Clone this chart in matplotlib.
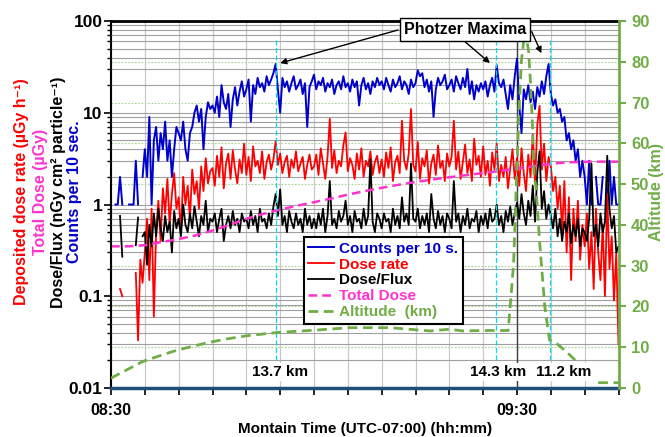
import numpy as np
import matplotlib
matplotlib.use('Agg')
import matplotlib.pyplot as plt
import matplotlib.transforms as mtransforms
from matplotlib.ticker import FixedLocator, FixedFormatter, NullFormatter

plt.rcParams['font.family'] = ['Liberation Sans', 'DejaVu Sans']
plt.rcParams['font.weight'] = 'bold'

# ---------------- data (time in minutes after 08:30, 20 s samples) ----------------
sample_step_min = 1 / 3

counts = [
    0, 0, 1, 1, 2, 1, 0, 0, 1, 1, 1, 3, 1, 0, 2,
    4, 2, 9, 1, 5, 7, 3, 6, 4, 8, 3, 5, 2, 4, 7,
    6, 5, 8, 4, 3, 6, 7, 10, 12, 8, 11, 4, 9, 13, 11,
    12, 10, 15, 9, 20, 13, 11, 16, 7, 14, 19, 12, 17, 22, 15,
    18, 23, 8, 20, 16, 24, 19, 21, 17, 25, 20, 23, 27, 34, 18,
    10, 24, 19, 22, 17, 21, 25, 18, 20, 23, 16, 21, 7, 19, 22,
    26, 18, 22, 20, 24, 17, 21, 19, 23, 16, 20, 22, 18, 25, 19,
    21, 17, 23, 19, 22, 12, 20, 24, 18, 21, 16, 22, 19, 24, 20,
    22, 18, 24, 20, 17, 23, 19, 21, 25, 18, 22, 20, 16, 23, 19,
    21, 29, 25, 27, 19, 23, 17, 22, 9, 18, 24, 20, 22, 26, 18,
    20, 23, 17, 25, 21, 18, 24, 19, 30, 16, 22, 14, 20, 17, 21,
    18, 22, 15, 20, 24, 17, 33, 21, 19, 23, 16, 11, 20, 14, 25,
    39, 12, 6, 18, 14, 20, 13, 17, 11, 19, 15, 22, 16, 25, 34,
    16, 12, 14, 10, 11, 8, 9, 5, 6, 4, 5, 3, 4, 2, 3,
    2, 1, 3, 1, 0, 2, 1, 1, 2, 0, 1, 3, 1, 2, 1, 1,
]

dose_rate = [
    0, 0, 0, 0, 0.12, 0.1, 0, 0, 0, 0.065, 0, 0.18, 0.033, 0.25, 0.14,
    0.3, 0.7, 0.15, 0.9, 0.06, 0.5, 1.1, 0.4, 1.5, 0.8, 1.9, 0.6, 1.3, 2.2, 0.9,
    1.2, 0.5, 2.0, 1.0, 1.6, 0.7, 2.4, 1.3, 1.8, 0.9, 2.6, 1.4, 3.2, 1.7, 2.3,
    2.5, 1.6, 3.4, 2.0, 4.2, 1.5, 2.8, 3.6, 1.9, 3.9, 2.4, 1.7, 3.1, 2.2, 4.6,
    2.1, 3.3, 1.8, 4.3, 2.6, 3.0, 2.2, 3.8, 1.9, 2.9, 3.5, 2.4, 3.1, 4.9, 2.7,
    3.6, 2.2, 2.9, 3.4, 2.0, 3.1, 2.5, 3.8, 2.3, 2.8, 3.3, 1.9, 2.7, 3.5, 2.4,
    2.6, 3.5, 2.1, 4.1, 2.8, 1.9, 3.3, 8.6, 2.5, 3.9, 2.2, 3.0, 2.6, 4.4, 6.1,
    2.3, 3.2, 2.7, 1.9, 3.6, 2.4, 4.1, 2.0, 3.0, 2.6, 3.8, 2.1, 2.9, 3.4, 2.2,
    3.1, 2.0, 3.7, 2.5, 4.2, 1.8, 2.9, 3.4, 2.2, 8.2, 3.0, 2.4, 3.6, 11.0, 2.7,
    2.3, 4.8, 1.9, 3.2, 2.6, 3.9, 1.7, 2.8, 3.5, 2.1, 4.4, 2.5, 3.0, 1.8, 3.6,
    2.6, 3.3, 8.2, 2.4, 3.8, 1.9, 2.9, 4.5, 2.2, 3.1, 1.8, 5.2, 2.7, 3.4, 2.0,
    4.3, 2.1, 3.0, 1.6, 3.7, 2.4, 4.6, 1.8, 2.7, 2.0, 3.3, 1.5, 2.5, 4.0, 1.9,
    3.2, 1.6, 4.1, 2.2, 1.4, 3.5, 2.0, 5.8, 1.7, 7.4, 11.9, 2.4, 4.6, 1.8, 3.3,
    2.6, 1.4, 2.0, 0.9, 1.6, 0.5, 1.8, 0.3, 1.2, 0.15, 0.9, 0.4, 1.1, 0.25, 0.6,
    0.35, 0.8, 0.2, 0.5, 0.12, 0.9, 0.3, 0.15, 0.6, 0.1, 1.3, 0.2, 0.45, 0.09, 0.3, 0.03,
]

dose_flux = [
    0, 0, 0, 0, 0.75, 0.27, 0, 0, 0, 0.7, 0, 0.36, 0.72, 0, 0.45,
    0.5, 0.22, 0.6, 0.35, 0.8, 0.45, 0.9, 0.55, 0.4, 0.75, 0.5, 0.65, 0.3, 0.85, 0.55,
    0.7, 0.45, 1.0, 0.6, 0.5, 0.8, 0.55, 0.95, 0.65, 0.45, 0.75, 0.6, 1.1, 0.5, 0.7,
    0.65, 0.8, 0.5, 0.7, 0.9, 0.4, 0.6, 0.75, 0.55, 0.85, 0.6, 0.7, 0.5, 0.8, 0.65,
    0.7, 0.55, 0.85, 0.6, 0.75, 0.5, 0.9, 0.65, 0.7, 0.55, 0.8, 0.6, 0.95, 1.3, 0.75,
    1.46, 0.6, 0.75, 0.5, 0.85, 0.65, 0.55, 0.8, 0.6, 0.7, 0.5, 0.9, 0.6, 0.75, 0.55,
    0.7, 0.55, 0.8, 0.6, 0.9, 0.5, 0.75, 1.8, 0.6, 0.7, 0.55, 0.85, 0.65, 0.75, 1.1,
    0.6, 0.75, 0.5, 0.85, 0.65, 0.7, 0.55, 0.9, 0.6, 0.75, 3.1, 0.65, 0.5, 0.8, 0.7,
    0.55, 0.8, 0.65, 0.7, 0.5, 0.9, 0.6, 0.75, 0.55, 1.2, 0.65, 0.8, 0.6, 2.8, 0.7,
    0.65, 0.9, 0.55, 0.75, 0.6, 0.8, 0.5, 1.3, 0.7, 0.55, 0.85, 0.6, 0.75, 0.5, 0.8,
    0.7, 0.55, 1.8, 0.65, 0.8, 0.5, 0.75, 0.6, 0.9, 0.55, 0.7, 0.65, 0.85, 0.5, 0.75,
    0.6, 0.8, 0.55, 0.9, 0.65, 0.7, 1.0, 0.6, 0.75, 0.5, 0.85, 0.65, 0.95, 0.6, 0.8,
    1.05, 0.7, 1.3, 0.8, 0.6, 1.1, 0.75, 1.6, 0.65, 2.2, 3.8, 0.9, 1.4, 0.7, 1.0,
    0.75, 0.55, 0.9, 0.45, 0.7, 0.4, 0.65, 0.5, 0.8, 0.38, 0.6, 0.45, 0.7, 0.35, 0.55,
    0.5, 0.4, 0.7, 2.8, 0.45, 0.6, 0.35, 0.8, 0.5, 0.65, 3.4, 0.9, 0.55, 0.75, 0.3, 0.35,
]

total_dose_time = [0, 2.5, 5, 7.5, 10, 12.5, 15, 17.5, 20, 22.5, 25, 27.5, 30, 32.5, 35,
                   37.5, 40, 42.5, 45, 47.5, 50, 52.5, 55, 57.5, 60, 62.5, 65, 67.5, 70, 72.5, 75]
total_dose = [0.35, 0.35, 0.36, 0.39, 0.42, 0.46, 0.52, 0.60, 0.70, 0.79, 0.88, 0.97, 1.06, 1.16, 1.28,
              1.40, 1.52, 1.64, 1.76, 1.87, 1.98, 2.09, 2.20, 2.32, 2.46, 2.62, 2.78, 2.88, 2.92, 2.93, 2.93]

alt_time = [0, 1, 2.5, 4.7, 7, 9.6, 12, 14.5, 17, 20, 24.5, 30.3, 35.3, 41.2, 45.6, 47.1, 50, 52, 55, 58.7,
            59.2, 59.5, 59.9, 60.3, 60.65, 61.0, 61.4, 61.7, 62.0, 62.3, 62.5, 62.8, 63.4, 64.1, 64.8,
            65.8, 67.3, 68.8, 70.5, 72, 75]
altitude = [2.4, 3.3, 4.6, 6.5, 7.8, 9.2, 10.2, 11.2, 12.0, 12.8, 13.6, 14.2, 14.8, 14.8, 14.2, 14.0, 14.4,
            14.0, 14.1, 14.1, 24.3, 30.6, 49.8, 68.2, 80.2, 85.2, 85.5, 82.9, 74.7, 64.1, 52.6, 49.3,
            34.6, 20.1, 11.8, 11.0, 8.9, 6.5, np.nan, 1.3, 1.3]

x_ticks = list(range(0, 76, 5))
x_tick_labels = ['08:30'] + [''] * 11 + ['09:30'] + [''] * 3
y_ticks = [0.01, 0.1, 1, 10, 100]
y_tick_labels = ['0.01', '0.1', '1', '10', '100']
alt_ticks = [0, 10, 20, 30, 40, 50, 60, 70, 80, 90]

maxima_times = [24.45, 56.95, 64.85]
maxima_labels = ['13.7 km', '14.3 km', '11.2 km']

# ---------------- figure ----------------
W, H = 665, 437
fig = plt.figure(figsize=(W / 100, H / 100), dpi=100)
ax = fig.add_axes([111 / W, 1 - 388 / H, 507.5 / W, 367 / H])
ax2 = ax.twinx()

t = np.arange(len(counts)) * sample_step_min
BLUE, RED, MAG, GREEN, CYAN = '#0000CC', '#FF0000', '#FF33CC', '#70AD47', '#00DDEE'

ax.set_yscale('log', nonpositive='mask')
ax.set_ylim(0.01, 100)
ax.set_xlim(0, 75)

# grid
ax.set_xticks(x_ticks)
ax.set_xticklabels(x_tick_labels)
ax.xaxis.grid(True, color='#c8c8c8', lw=0.9, zorder=0)
ax.axvline(60, color='#404040', lw=1.0, zorder=0.6)
ax.yaxis.grid(True, which='both', color='#a0a0a0', lw=0.8, zorder=0)
ax.set_axisbelow(True)
gtrans = mtransforms.blended_transform_factory(ax.transAxes, ax2.transData)
ax2.set_ylim(0, 90)
for v in alt_ticks[1:-1]:
    ax.plot([0, 1], [v, v], transform=gtrans, color='#A9D18E', lw=0.8, ls=(0, (1.5, 1.5)), zorder=0.5)

# series
l1, = ax.plot(t, counts, color=BLUE, lw=1.4, zorder=2, label='Counts per 10 s.')
l2, = ax.plot(t, dose_rate, color=RED, lw=1.3, zorder=2.1, label='Dose rate')
l3, = ax.plot(t, dose_flux, color='black', lw=1.3, zorder=2.2, label='Dose/Flux')
l4, = ax.plot(total_dose_time, total_dose, color=MAG, lw=1.8, ls=(0, (3.5, 2)), zorder=2.3, label='Total Dose')
l5, = ax2.plot(alt_time, altitude, color=GREEN, lw=2.0, ls=(0, (3.5, 2)), zorder=3, label='Altitude  (km)')

for tm in maxima_times:
    ax.axvline(tm, ymin=0.076, ymax=0.954, color=CYAN, lw=0.9, ls=(0, (4, 2)), zorder=2.5)

# axes styling
ax.yaxis.set_major_locator(FixedLocator(y_ticks))
ax.yaxis.set_major_formatter(FixedFormatter(y_tick_labels))
ax.yaxis.set_minor_formatter(NullFormatter())
ax.tick_params(axis='y', which='major', length=5, width=1.2, pad=1, labelsize=12.5, colors='black')
ax.tick_params(axis='y', which='minor', length=3, width=1.0)
ax.tick_params(axis='x', which='major', length=5, width=1.2, pad=6, labelsize=11.5)
for lab in ax.get_xticklabels() + ax.get_yticklabels():
    lab.set_fontweight('bold')
ax.spines['left'].set_linewidth(1.5)
ax.spines['top'].set_linewidth(2)
ax.spines['bottom'].set_color('#1F4E79')
ax.spines['bottom'].set_linewidth(2.5)
ax.spines['right'].set_visible(False)

ax2.set_yticks(alt_ticks)
ax2.tick_params(axis='y', length=5, width=1.5, colors=GREEN, pad=4, labelsize=12)
for lab in ax2.get_yticklabels():
    lab.set_fontweight('bold')
ax2.spines['right'].set_color(GREEN)
ax2.spines['right'].set_linewidth(2)
for s in ['left', 'top', 'bottom']:
    ax2.spines[s].set_visible(False)

# labels
ax.set_xlabel('Montain Time (UTC-07:00) (hh:mm)', fontsize=11, fontweight='bold', labelpad=3)
fig.text(656 / W, 1 - 192 / H, 'Altitude (km)', rotation=90, ha='center', va='center', color=GREEN,
         fontsize=11.5, fontweight='bold')

ylab = [('Deposited dose rate (\u00b5Gy h\u207b\u00b9)', RED, 22),
        ('Total Dose (\u00b5Gy)', MAG, 40),
        ('Dose/Flux (nGy cm\u00b2 particle\u207b\u00b9)', 'black', 58),
        ('Counts per 10 sec.', BLUE, 75)]
for txt, col, xp in ylab:
    fig.text(xp / W, 1 - 192 / H, txt, rotation=90, ha='center', va='center', color=col,
             fontsize=11.5, fontweight='bold')

# maxima labels
for tm, lab, dx in zip(maxima_times, maxima_labels, [0.6, 0.25, 2.0]):
    ax.text(tm + dx, 0.0436, lab, transform=mtransforms.blended_transform_factory(ax.transData, ax.transAxes),
            ha='center', va='center', fontsize=11, fontweight='bold', zorder=5,
            bbox=dict(facecolor='white', edgecolor='none', pad=1.5))

# annotation box
ax2.text(0.6975, 0.9755, 'Photzer Maxima', transform=ax2.transAxes, ha='center', va='center',
         fontsize=11.5, fontweight='bold', zorder=10,
         bbox=dict(boxstyle='square,pad=0.25', facecolor='white', edgecolor='black', lw=1))
arrow_targets = [(25.0, 34.8), (56.0, 34.8), (63.6, 44.5)]
arrow_tails = [(0.5655, 0.9755), (0.6975, 0.9436), (0.829, 0.971)]
for (tx, ty), (sx, sy) in zip(arrow_targets, arrow_tails):
    ax2.annotate('', xy=(tx, ty), xycoords=ax.transData, xytext=(sx, sy), textcoords=ax2.transAxes,
                 arrowprops=dict(arrowstyle='-|>', color='black', lw=1, mutation_scale=9,
                                 shrinkA=0, shrinkB=0), zorder=9)

leg = ax2.legend(handles=[l1, l2, l3, l4, l5], loc='upper left', bbox_to_anchor=(0.380, 0.411),
                 frameon=True, fancybox=False, edgecolor='black', framealpha=1,
                 prop={'weight': 'bold', 'size': 11}, labelcolor='linecolor',
                 handlelength=1.7, handletextpad=0.3, labelspacing=0.12, borderpad=0.3,
                 borderaxespad=0)
leg.get_frame().set_linewidth(1.5)
leg.set_zorder(20)

fig.savefig('out.png', dpi=100)
